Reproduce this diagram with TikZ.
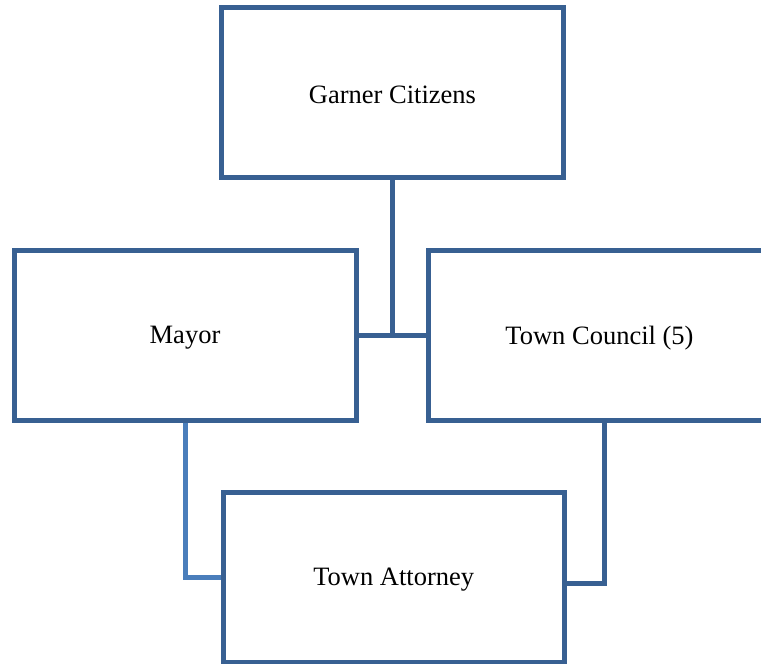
\documentclass[tikz,border=0pt]{standalone}
\usepackage{fontspec}
\setmainfont{Liberation Serif}
\definecolor{boxblue}{RGB}{56,96,146}
\definecolor{linkblue}{RGB}{74,126,187}
\begin{document}
\begin{tikzpicture}[x=1pt,y=-1pt,
  orgbox/.style={draw=boxblue,line width=5pt,fill=white,rectangle,minimum width=342pt,minimum height=170pt,inner sep=0pt,outer sep=0pt,font=\fontsize{26.5}{30}\selectfont,line join=miter},
  boxtext/.style={font=\fontsize{26.5}{30}\selectfont,inner sep=0pt,yshift=-2.5pt},
  link/.style={draw=boxblue,line width=5pt,line join=miter},
  lightlink/.style={draw=linkblue,line width=5pt,line join=miter}]
\useasboundingbox (0,0) rectangle (761,664);
\coordinate (junc) at (392,335);
\coordinate (tcj) at (604.5,583);
\coordinate (mj) at (185.5,577.5);
% boxes
\node[orgbox] (gc) at (392.5,92.5) {};
\node[orgbox] (my) at (185,335.5) {};
\node[orgbox] (tc) at (599.5,335.5) {};
\node[orgbox,minimum width=341.5pt,minimum height=169.5pt] (ta) at (393.75,577.25) {};
% connectors (kept clear of the box borders)
\draw[link,shorten <=2.5pt] (gc.south -| junc) -- (junc);
\draw[link,shorten <=2.5pt,shorten >=2.5pt] (my.east) -- (tc.west);
\draw[lightlink,shorten <=2.5pt,shorten >=2.5pt] (my.south -| mj) |- (ta.west |- mj);
\draw[link,shorten <=2.5pt,shorten >=2.5pt] (tc.south -| tcj) |- (ta.east |- tcj);
% labels
\node[boxtext] (gct) at (gc.center) {Garner Citizens};
\node[boxtext] (myt) at (my.center) {Mayor};
\node[boxtext] (tct) at (tc.center) {Town Council (5)};
\node[boxtext] (tat) at (ta.center) {Town Attorney};
\end{tikzpicture}
\end{document}
